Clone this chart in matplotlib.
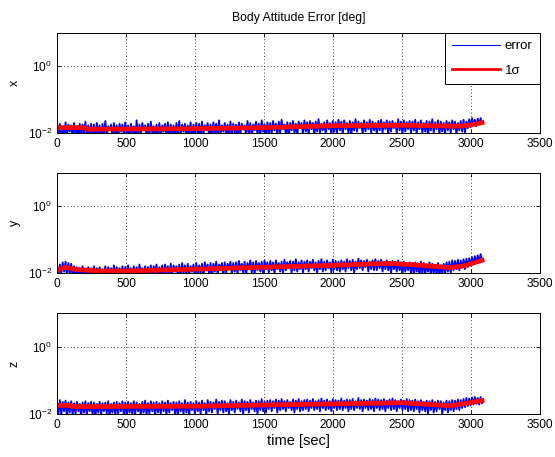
import numpy as np
import matplotlib
matplotlib.use("Agg")
import matplotlib.pyplot as plt

# blue error samples, in 1e-3 deg
x_err = [17, 7, 19, 9, 16, 6, 21, 8, 18, 11, 17, 7, 20, 9, 16, 8, 19, 6, 18, 10, 22, 7, 17, 9, 19,
         8, 18, 6, 20, 10, 17, 7, 19, 9, 23, 8, 16, 12, 18, 7, 20, 9, 17, 6, 19, 11, 18, 8, 21, 9,
         17, 7, 19, 10, 16, 6, 24, 8, 18, 9, 20, 12, 17, 7, 19, 8, 22, 10, 16, 6, 18, 9, 20, 7, 17,
         11, 19, 8, 21, 7, 18, 10, 17, 6, 20, 9, 23, 8, 18, 11, 19, 7, 17, 9, 21, 6, 18, 10, 20, 8,
         19, 7, 22, 9, 17, 12, 20, 8, 18, 6, 21, 10, 19, 7, 24, 9, 17, 11, 20, 8, 18, 7, 22, 9, 19,
         10, 18, 7, 21, 9, 19, 13, 17, 8, 23, 10, 20, 7, 18, 12, 22, 9, 19, 8, 24, 11, 18, 7, 21, 10,
         20, 9, 23, 12, 19, 8, 22, 10, 25, 13, 18, 9, 21, 7, 20, 12, 23, 10, 19, 8, 22, 14, 20, 9, 24,
         11, 21, 9, 23, 13, 20, 8, 22, 11, 26, 10, 19, 12, 21, 9, 24, 13, 20, 8, 23, 11, 21, 10, 25, 12,
         22, 9, 24, 13, 20, 10, 23, 8, 21, 12, 26, 11, 22, 14, 20, 9, 24, 11, 21, 13, 25, 10, 22, 12, 20,
         9, 23, 12, 25, 10, 21, 13, 24, 9, 22, 11, 23, 14, 20, 10, 26, 12, 22, 9, 24, 11, 21, 13, 23, 10,
         22, 12, 25, 9, 21, 13, 24, 10, 20, 11, 23, 8, 22, 12, 26, 10, 21, 13, 24, 9, 22, 11, 20, 10, 23,
         12, 21, 10, 24, 13, 22, 9, 20, 12, 23, 11, 25, 10, 22, 14, 26, 15, 28, 17, 25, 16, 27, 18, 28, 20]
y_err = [12, 8, 18, 9, 21, 11, 22, 8, 20, 10, 19, 7, 16, 9, 15, 7, 14, 8, 16, 6, 13, 9, 15, 7, 14,
         8, 16, 6, 14, 9, 15, 7, 13, 8, 16, 6, 15, 9, 14, 7, 17, 8, 15, 10, 14, 6, 16, 8, 15, 7,
         17, 9, 14, 7, 16, 8, 15, 6, 18, 10, 14, 7, 16, 9, 15, 8, 17, 6, 16, 10, 18, 7, 15, 9, 17,
         8, 18, 10, 16, 7, 19, 9, 17, 11, 16, 8, 18, 7, 20, 10, 17, 9, 19, 8, 16, 11, 18, 7, 20, 9,
         17, 10, 19, 8, 21, 12, 18, 9, 20, 7, 19, 11, 22, 9, 18, 12, 20, 8, 21, 10, 19, 13, 22, 9, 20,
         11, 21, 9, 23, 12, 19, 10, 22, 8, 20, 13, 24, 10, 21, 9, 23, 12, 20, 11, 22, 9, 24, 13, 21, 10,
         23, 12, 21, 9, 24, 13, 20, 11, 22, 10, 25, 12, 21, 14, 23, 10, 22, 12, 26, 11, 21, 13, 24, 10, 22,
         13, 24, 11, 22, 14, 25, 12, 21, 10, 23, 13, 26, 11, 22, 12, 24, 14, 21, 10, 25, 13, 23, 12, 22, 11,
         24, 13, 22, 11, 26, 14, 23, 12, 25, 10, 22, 13, 27, 14, 24, 12, 23, 15, 25, 11, 22, 13, 24, 12, 26,
         12, 23, 14, 25, 11, 22, 13, 24, 12, 21, 10, 23, 13, 22, 11, 24, 12, 21, 9, 22, 11, 20, 12, 21, 10,
         20, 9, 21, 11, 19, 8, 22, 10, 20, 9, 18, 11, 21, 8, 19, 10, 18, 9, 20, 8, 17, 10, 19, 9, 21,
         11, 22, 10, 24, 12, 23, 13, 25, 12, 24, 14, 26, 13, 27, 15, 28, 17, 30, 18, 32, 20, 34, 22, 37, 24]
z_err = [24, 10, 26, 9, 23, 12, 25, 8, 22, 11, 24, 9, 21, 10, 23, 12, 20, 8, 22, 11, 24, 9, 21, 12, 23,
         9, 22, 8, 20, 11, 23, 9, 21, 12, 22, 10, 24, 8, 20, 11, 22, 9, 23, 10, 21, 12, 24, 9, 22, 8,
         23, 11, 21, 9, 24, 10, 22, 12, 20, 8, 23, 11, 25, 9, 21, 10, 24, 12, 22, 9, 23, 11, 21, 10, 24,
         12, 22, 9, 25, 11, 21, 13, 23, 10, 22, 8, 24, 12, 21, 10, 26, 11, 22, 9, 23, 13, 21, 10, 24, 12,
         22, 10, 25, 13, 21, 9, 26, 12, 23, 11, 22, 14, 27, 10, 23, 13, 25, 11, 24, 12, 21, 10, 26, 13, 23,
         11, 25, 14, 22, 12, 27, 10, 24, 13, 23, 11, 26, 14, 22, 12, 25, 10, 24, 13, 28, 12, 23, 11, 25, 14,
         26, 12, 24, 15, 27, 11, 25, 13, 28, 14, 24, 12, 26, 15, 23, 13, 27, 11, 25, 14, 28, 12, 24, 13, 26,
         14, 27, 12, 25, 15, 28, 13, 24, 14, 26, 12, 29, 15, 25, 13, 27, 14, 24, 12, 28, 15, 26, 13, 25, 14,
         29, 13, 25, 15, 27, 12, 26, 14, 28, 13, 24, 15, 30, 14, 26, 12, 27, 15, 25, 13, 28, 14, 26, 12, 29,
         15, 27, 13, 26, 14, 28, 12, 25, 15, 27, 13, 29, 14, 26, 12, 24, 15, 27, 13, 25, 14, 28, 12, 26, 13,
         25, 12, 27, 14, 24, 11, 26, 13, 23, 12, 25, 10, 24, 13, 26, 11, 23, 12, 25, 14, 24, 10, 22, 13, 25,
         11, 24, 13, 26, 12, 25, 14, 27, 13, 26, 15, 28, 16, 30, 17, 29, 18, 31, 19, 32, 20, 30, 19, 32, 21]
t_start, t_end = 0, 3080

# 1 sigma curves, knots in sec and 1e-3 deg
x_sig_t = [0, 200, 210, 1000, 1500, 2000, 2500, 2900, 3000, 3080]
x_sig = [14.5, 14.5, 13, 13.5, 14.5, 16.5, 17, 16, 17.5, 20.5]
y_sig_t = [0, 60, 120, 300, 500, 1000, 1500, 2000, 2400, 2600, 2850, 2950, 3080]
y_sig = [12, 15, 13, 11.5, 11.5, 13, 15, 17, 19.5, 17.5, 14.5, 16.5, 24]
z_sig_t = [0, 100, 110, 1000, 1500, 2000, 2500, 2850, 3080]
z_sig = [18, 18, 16.5, 17, 18.5, 20, 21.5, 17.5, 25]

plt.rcParams['font.family'] = ['Liberation Sans', 'DejaVu Sans']
plt.rcParams['font.size'] = 8.6

fig = plt.figure(figsize=(5.55, 4.57), dpi=100)
W, H = 555.0, 457.0
boxes = [(33, 133), (173, 273), (313, 414)]
names = ['x', 'y', 'z']
errs = [x_err, y_err, z_err]
sigs = [(x_sig_t, x_sig), (y_sig_t, y_sig), (z_sig_t, z_sig)]

for i in range(3):
    top, bot = boxes[i]
    ax = fig.add_axes([57 / W, 1 - bot / H, 483 / W, (bot - top) / H])
    e = np.array(errs[i]) * 1e-3
    t = np.linspace(t_start, t_end, len(e))
    ax.plot(t, e, color='blue', lw=1.3, label='error')
    ax.plot(sigs[i][0], np.array(sigs[i][1]) * 1e-3, color='red', lw=3.4, label='1σ')
    ax.set_yscale('log')
    ax.set_ylim(1e-2, 1e1)
    ax.set_xlim(0, 3500)
    ax.set_yticks([1e-2, 1e0])
    ax.yaxis.set_minor_locator(matplotlib.ticker.NullLocator())
    ax.set_xticks(range(0, 3501, 500))
    ax.grid(True, color='black', linestyle=(0, (1, 3)), linewidth=0.6)
    ax.tick_params(direction='in', top=True, right=True, length=3, width=0.6)
    for s in ax.spines.values():
        s.set_linewidth(0.7)
    ax.set_ylabel(names[i], fontsize=9)
    ax.yaxis.set_label_coords(-0.075, 0.5)
    if i == 0:
        ax.set_title('Body Attitude Error [deg]', fontsize=8.8, pad=9)
        leg = ax.legend(loc='upper right', borderaxespad=0, fancybox=False,
                        framealpha=1, edgecolor='black', handlelength=3.6,
                        handletextpad=0.4, labelspacing=0.9, borderpad=0.55,
                        fontsize=9.5)
        leg.get_frame().set_linewidth(0.7)
        leg.get_lines()[0].set_linewidth(0.8)
        leg.get_lines()[1].set_linewidth(2.0)
    if i == 2:
        ax.set_xlabel('time [sec]', fontsize=10.5, labelpad=2)

fig.savefig('out.png', dpi=100)
